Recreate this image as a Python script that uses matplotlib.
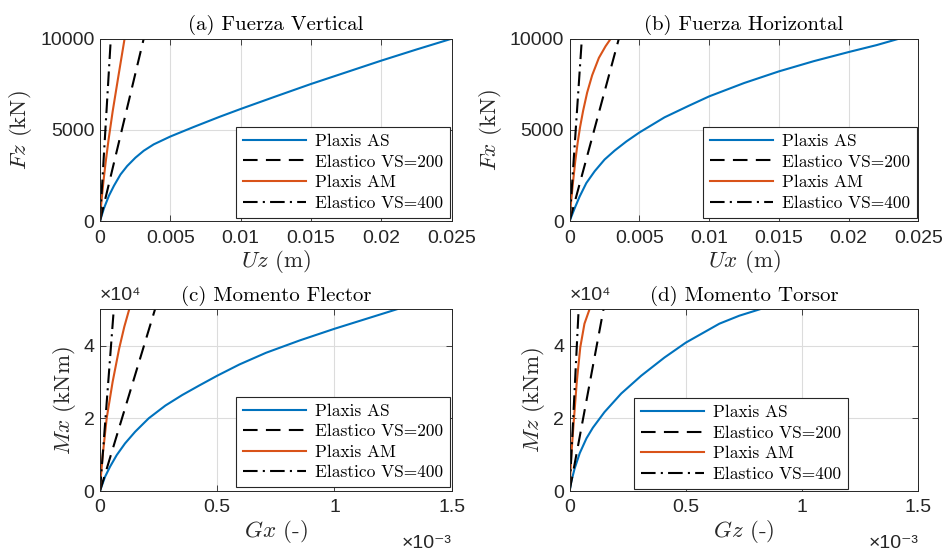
import matplotlib
matplotlib.use("Agg")
import matplotlib.pyplot as plt
from matplotlib.ticker import FuncFormatter

plt.rcParams['mathtext.fontset'] = 'cm'
plt.rcParams['font.family'] = ['Liberation Sans', 'DejaVu Sans']

# (a) Fuerza Vertical  (Uz en m, Fz en kN)
a_as_x = [0, 0.00028, 0.00064, 0.001, 0.00146, 0.00193, 0.00252, 0.00311, 0.00382, 0.005,
          0.00665, 0.0085, 0.01, 0.0125, 0.015, 0.0175, 0.02, 0.0225, 0.025]
a_as_y = [0, 700, 1400, 1950, 2560, 3020, 3480, 3860, 4210, 4640,
          5160, 5720, 6150, 6840, 7520, 8160, 8800, 9410, 10000]
a_am_x = [0, 0.00005, 0.00012, 0.00025, 0.0004, 0.0006, 0.0009, 0.0013, 0.00175]
a_am_y = [0, 600, 1200, 2200, 3200, 4400, 6000, 7900, 10000]
a_e200_x = [0, 0.00311]
a_e400_x = [0, 0.00077]
a_e_y = [0, 10000]

# (b) Fuerza Horizontal  (Ux en m, Fx en kN)
b_as_x = [0, 0.00036, 0.00072, 0.0012, 0.0018, 0.00251, 0.00323, 0.00407, 0.005, 0.0068,
          0.0085, 0.01, 0.0125, 0.015, 0.0175, 0.02, 0.022, 0.0236]
b_as_y = [0, 700, 1350, 2090, 2740, 3380, 3870, 4370, 4860, 5690,
          6310, 6840, 7570, 8210, 8770, 9270, 9650, 10000]
b_am_x = [0, 0.0001, 0.00024, 0.00041, 0.00058, 0.00075, 0.00097, 0.00126, 0.00162,
          0.0021, 0.00258, 0.00295]
b_am_y = [0, 1000, 2100, 3300, 4300, 5150, 6050, 7050, 8000, 8950, 9590, 10000]
b_e200_x = [0, 0.00353]
b_e400_x = [0, 0.00088]
b_e_y = [0, 10000]

# (c) Momento Flector  (Gx en -, Mx en kNm)
c_as_x = [0, 0.0215e-3, 0.043e-3, 0.0716e-3, 0.107e-3, 0.15e-3, 0.208e-3, 0.279e-3, 0.351e-3,
          0.423e-3, 0.5e-3, 0.595e-3, 0.708e-3, 0.852e-3, 1.0e-3, 1.268e-3]
c_as_y = [0, 0.39e4, 0.67e4, 0.99e4, 1.31e4, 1.63e4, 2.0e4, 2.35e4, 2.64e4,
          2.9e4, 3.17e4, 3.48e4, 3.8e4, 4.14e4, 4.46e4, 5.0e4]
c_am_x = [0, 0.004e-3, 0.011e-3, 0.0287e-3, 0.054e-3, 0.082e-3, 0.104e-3, 0.125e-3]
c_am_y = [0, 0.4e4, 0.94e4, 2.0e4, 3.0e4, 3.92e4, 4.52e4, 5.0e4]
c_e200_x = [0, 0.235e-3]
c_e400_x = [0, 0.059e-3]
c_e_y = [0, 5e4]

# (d) Momento Torsor  (Gz en -, Mz en kNm)
d_as_x = [0, 0.0073e-3, 0.0218e-3, 0.0436e-3, 0.0727e-3, 0.1e-3, 0.15e-3, 0.222e-3, 0.308e-3,
          0.408e-3, 0.5e-3, 0.644e-3, 0.73e-3, 0.82e-3]
d_as_y = [0, 0.26e4, 0.62e4, 1.04e4, 1.45e4, 1.74e4, 2.17e4, 2.68e4, 3.17e4,
          3.67e4, 4.08e4, 4.6e4, 4.82e4, 5.0e4]
d_am_x = [0, 0.003e-3, 0.007e-3, 0.019e-3, 0.031e-3, 0.046e-3, 0.064e-3, 0.086e-3]
d_am_y = [0, 0.4e4, 0.95e4, 2.0e4, 3.0e4, 3.95e4, 4.6e4, 5.0e4]
d_e200_x = [0, 0.146e-3]
d_e400_x = [0, 0.039e-3]
d_e_y = [0, 5e4]

titles = ['(a) Fuerza Vertical', '(b) Fuerza Horizontal',
          '(c) Momento Flector', '(d) Momento Torsor']
xlabels = [r'$Uz$ (m)', r'$Ux$ (m)', r'$Gx$ (-)', r'$Gz$ (-)']
ylabels = [r'$Fz$ (kN)', r'$Fx$ (kN)', r'$Mx$ (kNm)', r'$Mz$ (kNm)']
labels = ['Plaxis AS', 'Elastico VS=200', 'Plaxis AM', 'Elastico VS=400']

data = [
    (a_as_x, a_as_y, a_e200_x, a_e_y, a_am_x, a_am_y, a_e400_x, a_e_y),
    (b_as_x, b_as_y, b_e200_x, b_e_y, b_am_x, b_am_y, b_e400_x, b_e_y),
    (c_as_x, c_as_y, c_e200_x, c_e_y, c_am_x, c_am_y, c_e400_x, c_e_y),
    (d_as_x, d_as_y, d_e200_x, d_e_y, d_am_x, d_am_y, d_e400_x, d_e_y),
]

blue = '#0072BD'
orange = '#D95319'
dark = '#262626'
serif = 'cmr10'
sans = ['Liberation Sans', 'DejaVu Sans']

fig = plt.figure(figsize=(9.43, 5.53), dpi=100)
positions = [[0.106, 0.600, 0.373, 0.330], [0.604, 0.600, 0.370, 0.330],
             [0.106, 0.112, 0.373, 0.329], [0.604, 0.112, 0.370, 0.329]]

for i in range(4):
    ax = fig.add_axes(positions[i])
    asx, asy, e2x, e2y, amx, amy, e4x, e4y = data[i]
    ax.plot(asx, asy, color=blue, lw=1.5, label=labels[0])
    ax.plot(e2x, e2y, color='black', lw=1.5, ls=(0, (7, 4)), label=labels[1])
    ax.plot(amx, amy, color=orange, lw=1.5, label=labels[2])
    ax.plot(e4x, e4y, color='black', lw=1.5, ls=(0, (7, 2.5, 1, 2.5)), label=labels[3])

    if i < 2:
        ax.set_xlim(0, 0.025)
        ax.set_ylim(0, 10000)
        ax.set_xticks([0, 0.005, 0.01, 0.015, 0.02, 0.025])
        ax.set_xticklabels(['0', '0.005', '0.01', '0.015', '0.02', '0.025'])
        ax.set_yticks([0, 5000, 10000])
        ax.set_yticklabels(['0', '5000', '10000'])
    else:
        ax.set_xlim(0, 1.5e-3)
        ax.set_ylim(0, 5e4)
        ax.set_xticks([0, 0.5e-3, 1e-3, 1.5e-3])
        ax.xaxis.set_major_formatter(FuncFormatter(lambda v, p: '%g' % round(v * 1e3, 3)))
        ax.set_yticks([0, 2e4, 4e4])
        ax.yaxis.set_major_formatter(FuncFormatter(lambda v, p: '%g' % round(v / 1e4, 3)))
        ax.text(0.0, 1.075, '×10⁴', transform=ax.transAxes, fontsize=14, color=dark,
                ha='left', va='center', family=sans)
        ax.text(1.0, -0.29, '×10⁻³', transform=ax.transAxes, fontsize=14, color=dark,
                ha='right', va='center', family=sans)

    ax.grid(True, color='#dcdcdc', lw=0.8)
    ax.set_axisbelow(True)
    ax.tick_params(direction='in', top=True, right=True, labelsize=14, colors=dark,
                   length=4, width=0.6)
    ax.tick_params(axis='y', pad=4)
    ax.tick_params(axis='x', pad=6)
    for s in ax.spines.values():
        s.set_color(dark)
        s.set_linewidth(0.7)
    ax.set_title(titles[i], fontsize=15, pad=6, fontfamily=serif)
    ax.set_xlabel(xlabels[i], fontsize=16.5, color=dark, labelpad=1, fontfamily=serif)
    ax.set_ylabel(ylabels[i], fontsize=16.5, color=dark, labelpad=4, fontfamily=serif)

    anchor = (0.797, 0.012) if i == 3 else (0.995, 0.02)
    leg = ax.legend(loc='lower right', bbox_to_anchor=anchor,
                    prop={'family': serif, 'size': 12.5},
                    handlelength=3.65, fancybox=False, framealpha=1,
                    borderaxespad=0, borderpad=0.4, labelspacing=0.3,
                    handletextpad=0.5)
    leg.get_frame().set_edgecolor(dark)
    leg.get_frame().set_linewidth(0.8)

fig.savefig('out.png', dpi=100)
